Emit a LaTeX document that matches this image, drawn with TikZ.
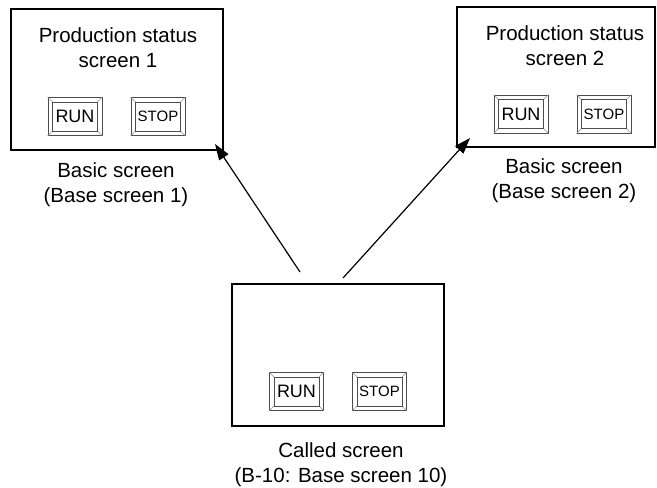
\documentclass[tikz,border=0pt]{standalone}
\usepackage{fontspec}
\setmainfont{Liberation Sans}
\usetikzlibrary{arrows.meta}
\tikzset{
  screenbox/.style={draw=black, line width=1.4pt},
  lbl/.style={font=\fontsize{20.5}{25}\selectfont, align=center, inner sep=0pt},
  btnouter/.style={draw=black!70, line width=0.8pt, minimum width=54pt, minimum height=38pt, inner sep=0pt},
  bevel/.style={draw=black!45, line width=0.6pt},
  inframe/.style={draw=black!70, line width=0.8pt},
  conn/.style={line width=1.2pt, -{Triangle[length=16pt,width=11pt]}},
}
\newcommand{\mybutton}[4]{%
  \node[btnouter] (#1) at (#2) {};
  \node[inner sep=0pt, font=#4] (#1t) at (#1.center) {#3};
  \draw[bevel] (#1.north west) -- ([shift={(5pt,-5pt)}]#1.north west)
               (#1.north east) -- ([shift={(-5pt,-5pt)}]#1.north east)
               (#1.south west) -- ([shift={(5pt,5pt)}]#1.south west)
               (#1.south east) -- ([shift={(-5pt,5pt)}]#1.south east);
  \draw[inframe] ([shift={(5pt,-5pt)}]#1.north west) rectangle ([shift={(-5pt,5pt)}]#1.south east);
}
\begin{document}
\begin{tikzpicture}[x=1pt,y=-1pt]
\useasboundingbox (0,0) rectangle (657,488);
% screens
\node[screenbox, minimum width=212pt, minimum height=141pt, inner sep=0pt] (s1) at (117,79.5) {};
\node[screenbox, minimum width=198pt, minimum height=140pt, inner sep=0pt] (s2) at (556,77) {};
\node[screenbox, minimum width=212pt, minimum height=142pt, inner sep=0pt] (s3) at (338,355) {};
% titles (anchor = baseline of last line)
\node[lbl, anchor=base] (t1) at (118,67) {Production status\\screen 1};
\node[lbl, anchor=base] (t2) at (565,65) {Production status\\screen 2};
% captions
\node[lbl, anchor=base] (c1) at (116,202) {Basic screen\\(Base screen 1)};
\node[lbl, anchor=base] (c2) at (564,198) {Basic screen\\(Base screen 2)};
\node[lbl, anchor=base] (c3) at (341,482) {Called screen\\(B-10: Base screen 10)};
% buttons
\mybutton{r1}{75,116.5}{RUN}{\fontsize{18}{20}\selectfont}
\mybutton{p1}{158,116.5}{STOP}{\fontsize{15}{17}\selectfont}
\mybutton{r2}{521,114}{RUN}{\fontsize{18}{20}\selectfont}
\mybutton{p2}{604,114}{STOP}{\fontsize{15}{17}\selectfont}
\mybutton{r3}{296.5,391.5}{RUN}{\fontsize{18}{20}\selectfont}
\mybutton{p3}{379.5,391.5}{STOP}{\fontsize{15}{17}\selectfont}
% connectors
\coordinate (a1s) at (300,272);
\coordinate (a1e) at (215,144);
\coordinate (a2s) at (343,278);
\coordinate (a2e) at (470,138);
\draw[conn] (a1s) -- (a1e);
\draw[conn] (a2s) -- (a2e);
\end{tikzpicture}
\end{document}
